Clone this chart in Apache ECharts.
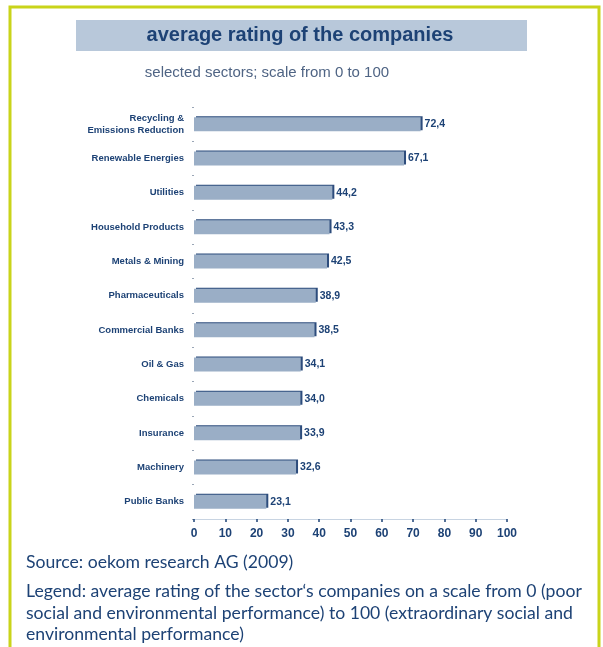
<!DOCTYPE html>
<html>
<head>
<meta charset="utf-8">
<script src="https://cdn.jsdelivr.net/npm/echarts@6/dist/echarts.min.js"></script>
<style>
  html, body { margin: 0; padding: 0; background: #fff; }
  #main { width: 603px; height: 647px; }
</style>
</head>
<body>
<div id="main"></div>
<script>
// sectors, top to bottom
const sectors = ['Recycling &\nEmissions Reduction', 'Renewable Energies', 'Utilities', 'Household Products',
    'Metals & Mining', 'Pharmaceuticals', 'Commercial Banks', 'Oil & Gas', 'Chemicals',
    'Insurance', 'Machinery', 'Public Banks'];
// average rating per sector
const ratings = [72.4, 67.1, 44.2, 43.3, 42.5, 38.9, 38.5, 34.1, 34.0, 33.9, 32.6, 23.1];
// x axis ticks
const xTicks = [0, 10, 20, 30, 40, 50, 60, 70, 80, 90, 100];

const navy = '#1d4275';
let myChart = echarts.init(document.getElementById('main'));

let option = {
    animation: false,
    backgroundColor: '#fff',
    graphic: [
        // gelber rahmen
        { type: 'polyline', shape: { points: [[10, 660], [10, 7], [599, 7], [599, 660]] },
          style: { stroke: '#c9d41a', lineWidth: 3, fill: null } },
        { type: 'rect', shape: { x: 76, y: 20, width: 451, height: 31 }, style: { fill: '#b8c8da' } },
        { type: 'text', x: 300, y: 35, style: { text: 'average rating of the companies', fill: navy,
            font: 'bold 20px "Liberation Sans", Arial, sans-serif', textAlign: 'center', textVerticalAlign: 'middle' } },
        { type: 'text', x: 267, y: 73, style: { text: 'selected sectors; scale from 0 to 100', fill: '#4f6484',
            font: '15px "Liberation Sans", Arial, sans-serif', textAlign: 'center', textVerticalAlign: 'middle' } },
        { type: 'text', x: 26, y: 562, style: { text: 'Source: oekom research AG (2009)', fill: navy,
            font: '17.6px Lato, sans-serif', textVerticalAlign: 'middle' } },
        { type: 'text', x: 26, y: 581, style: {
            text: 'Legend: average rating of the sector‘s companies on a scale from 0 (poor\nsocial and environmental performance) to 100 (extraordinary social and\nenvironmental performance)',
            fill: navy, font: '17.6px Lato, sans-serif', lineHeight: 21.5 } }
    ],
    grid: { left: 194, right: 96, top: 107, bottom: 128 },
    xAxis: {
        type: 'value',
        min: 0, max: 100, interval: 10,
        splitLine: { show: false },
        axisLine: { show: true, lineStyle: { color: '#c8d4e2', width: 1 } },
        axisTick: { show: true, length: 3, lineStyle: { color: navy, width: 1.5 } },
        axisLabel: { color: navy, fontWeight: 'bold', fontSize: 12, margin: 9,
            fontFamily: '"Liberation Sans", Arial, sans-serif' }
    },
    yAxis: {
        type: 'category',
        inverse: true,
        data: sectors,
        axisLine: { show: false },
        axisTick: { show: true, length: 2, lineStyle: { color: '#9aa6b6' } },
        axisLabel: { color: navy, fontWeight: 'bold', fontSize: 9.5, margin: 10, lineHeight: 12,
            fontFamily: '"Liberation Sans", Arial, sans-serif' }
    },
    series: [
        {
            type: 'bar',
            data: ratings,
            barWidth: 14,
            itemStyle: {
                color: '#9aaec6',
                shadowColor: '#2d4c7c',
                shadowBlur: 0,
                shadowOffsetX: 2,
                shadowOffsetY: -1
            },
            label: {
                show: true,
                position: 'right',
                distance: 4,
                color: navy,
                fontWeight: 'bold',
                fontSize: 10.5,
                fontFamily: '"Liberation Sans", Arial, sans-serif',
                formatter: p => p.value.toFixed(1).replace('.', ',')
            }
        }
    ]
};
myChart.setOption(option);
</script>
</body>
</html>
